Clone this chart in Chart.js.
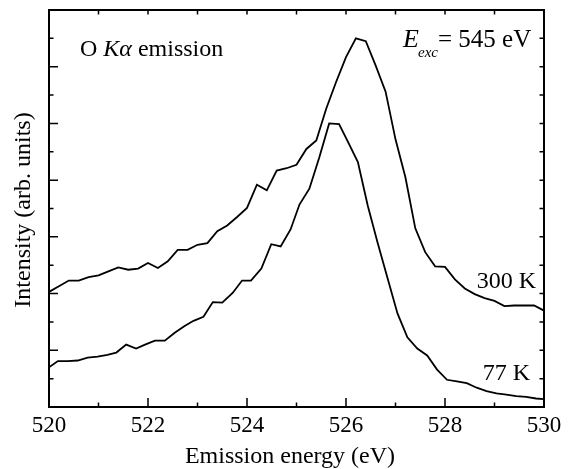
<!DOCTYPE html>
<html>
<head>
<meta charset="utf-8">
<script src="https://cdn.jsdelivr.net/npm/chart.js@4.4.1/dist/chart.umd.min.js"></script>
<style>
  html, body { margin: 0; padding: 0; background: #fff; }
  #wrap { width: 570px; height: 469px; }
</style>
</head>
<body>
<div id="wrap"><canvas id="chart" width="570" height="469"></canvas></div>
<script>
// O K-alpha emission spectra, two sample temperatures
const energy300 = [520.0, 520.2, 520.4, 520.6, 520.8, 521.0, 521.2, 521.4, 521.6, 521.8,
  522.0, 522.2, 522.4, 522.6, 522.8, 523.0, 523.2, 523.4, 523.6, 523.8,
  524.0, 524.2, 524.4, 524.6, 524.8, 525.0, 525.2, 525.4, 525.6, 525.8,
  526.0, 526.2, 526.4, 526.6, 526.8, 527.0, 527.2, 527.4, 527.6, 527.8,
  528.0, 528.2, 528.4, 528.6, 528.8, 529.0, 529.2, 529.4, 529.6, 529.8, 530.0];
const intensity300 = [2.03, 2.13, 2.23, 2.23, 2.29, 2.32, 2.39, 2.46, 2.42, 2.44,
  2.54, 2.45, 2.57, 2.77, 2.77, 2.86, 2.89, 3.10, 3.20, 3.35,
  3.51, 3.92, 3.82, 4.17, 4.21, 4.27, 4.55, 4.70, 5.26, 5.73,
  6.17, 6.50, 6.45, 6.02, 5.56, 4.72, 4.05, 3.15, 2.73, 2.48,
  2.47, 2.25, 2.09, 1.99, 1.92, 1.87, 1.78, 1.79, 1.79, 1.79, 1.70];

const energy77 = [520.0, 520.18, 520.38, 520.58, 520.78, 520.98, 521.18, 521.36, 521.56, 521.76,
  521.94, 522.14, 522.34, 522.54, 522.74, 522.92, 523.12, 523.31, 523.5, 523.71,
  523.9, 524.08, 524.29, 524.49, 524.68, 524.88, 525.06, 525.26, 525.46, 525.66,
  525.86, 526.06, 526.24, 526.44, 526.64, 526.84, 527.04, 527.24, 527.44, 527.64,
  527.84, 528.04, 528.24, 528.44, 528.64, 528.84, 529.04, 529.24, 529.44, 529.64, 529.84, 530.0];
const intensity77 = [0.70, 0.81, 0.81, 0.82, 0.87, 0.89, 0.92, 0.96, 1.10, 1.03,
  1.10, 1.17, 1.17, 1.31, 1.43, 1.52, 1.59, 1.85, 1.84, 2.01,
  2.23, 2.23, 2.44, 2.87, 2.83, 3.13, 3.57, 3.85, 4.40, 5.00,
  4.99, 4.64, 4.32, 3.55, 2.89, 2.27, 1.65, 1.23, 1.03, 0.91,
  0.66, 0.48, 0.45, 0.42, 0.34, 0.28, 0.24, 0.22, 0.19, 0.18, 0.15, 0.14];

const xLabels = [520, 522, 524, 526, 528, 530];
const seriesLabels = ['300 K', '77 K'];

const SERIF = '"Liberation Serif", "Times New Roman", serif';

const toPoints = (xs, ys) => xs.map((x, i) => ({ x: x, y: ys[i] }));

// frame on all four sides with inward ticks, axis titles and labels
const framePlugin = {
  id: 'frame',
  afterDraw(chart) {
    const { ctx, chartArea: a, scales } = chart;
    const xs = scales.x, ys = scales.y;
    ctx.save();
    ctx.strokeStyle = '#000';
    ctx.lineWidth = 1.5;
    ctx.beginPath();
    xs.ticks.forEach(t => {
      const px = xs.getPixelForValue(t.value);
      const major = t.value % 2 === 0;
      ctx.moveTo(px, a.bottom);
      ctx.lineTo(px, a.bottom - (major ? 9 : 4.5));
      ctx.moveTo(px, a.top);
      ctx.lineTo(px, a.top + 4.5);
    });
    ys.ticks.forEach(t => {
      const py = ys.getPixelForValue(t.value);
      const major = Number.isInteger(t.value);
      ctx.moveTo(a.left, py);
      ctx.lineTo(a.left + (major ? 9 : 4.5), py);
      ctx.moveTo(a.right, py);
      ctx.lineTo(a.right - 4.5, py);
    });
    ctx.stroke();

    ctx.lineWidth = 2;
    ctx.strokeRect(a.left, a.top, a.right - a.left, a.bottom - a.top);

    ctx.fillStyle = '#000';
    // axis titles
    ctx.font = '24px ' + SERIF;
    ctx.textAlign = 'center';
    ctx.textBaseline = 'alphabetic';
    ctx.fillText('Emission energy (eV)', 290, 463);
    ctx.save();
    ctx.translate(23.5, 210);
    ctx.rotate(-Math.PI / 2);
    ctx.textBaseline = 'middle';
    ctx.fillText('Intensity (arb. units)', 0, 0);
    ctx.restore();

    // annotations
    ctx.textAlign = 'left';
    ctx.textBaseline = 'alphabetic';
    let cx = 80;
    ctx.font = '24px ' + SERIF;
    ctx.fillText('O ', cx, 56);
    cx += ctx.measureText('O ').width;
    ctx.font = 'italic 24px ' + SERIF;
    ctx.fillText('K\u03b1', cx, 56);
    cx += ctx.measureText('K\u03b1').width;
    ctx.font = '24px ' + SERIF;
    ctx.fillText(' emission', cx, 56);

    // excitation energy, subscript tucked under the italic E
    ctx.font = 'italic 26px ' + SERIF;
    ctx.fillText('E', 403, 47);
    ctx.font = 'italic 15px ' + SERIF;
    ctx.fillText('exc', 418, 57);
    ctx.font = '25px ' + SERIF;
    ctx.fillText('= 545 eV', 438, 47);

    ctx.font = '24px ' + SERIF;
    ctx.textAlign = 'right';
    ctx.fillText(seriesLabels[0], 536, 288);
    ctx.fillText(seriesLabels[1], 530, 380);
    ctx.restore();
  }
};

new Chart(document.getElementById('chart'), {
  type: 'line',
  data: {
    datasets: [
      {
        label: seriesLabels[0],
        data: toPoints(energy300, intensity300),
        borderColor: '#000',
        borderWidth: 1.8,
        pointRadius: 0,
        tension: 0,
        fill: false
      },
      {
        label: seriesLabels[1],
        data: toPoints(energy77, intensity77),
        borderColor: '#000',
        borderWidth: 1.8,
        pointRadius: 0,
        tension: 0,
        fill: false
      }
    ]
  },
  options: {
    responsive: false,
    animation: false,
    devicePixelRatio: 1,
    layout: { padding: { top: 10, right: 26, left: 0, bottom: 0 } },
    plugins: {
      legend: { display: false },
      tooltip: { enabled: false },
      title: { display: false }
    },
    scales: {
      x: {
        type: 'linear',
        min: 520,
        max: 530,
        grid: { display: false, drawTicks: false },
        border: { display: false },
        ticks: {
          stepSize: 1,
          autoSkip: false,
          maxRotation: 0,
          padding: 5,
          color: '#000',
          font: { family: SERIF, size: 23 },
          callback: v => (xLabels.includes(v) ? String(v) : '')
        },
        afterFit: s => { s.height = 62; }
      },
      y: {
        min: 0,
        max: 7,
        grid: { display: false, drawTicks: false },
        border: { display: false },
        ticks: { stepSize: 0.5, display: false },
        afterFit: s => { s.width = 49; }
      }
    }
  },
  plugins: [framePlugin]
});
</script>
</body>
</html>
